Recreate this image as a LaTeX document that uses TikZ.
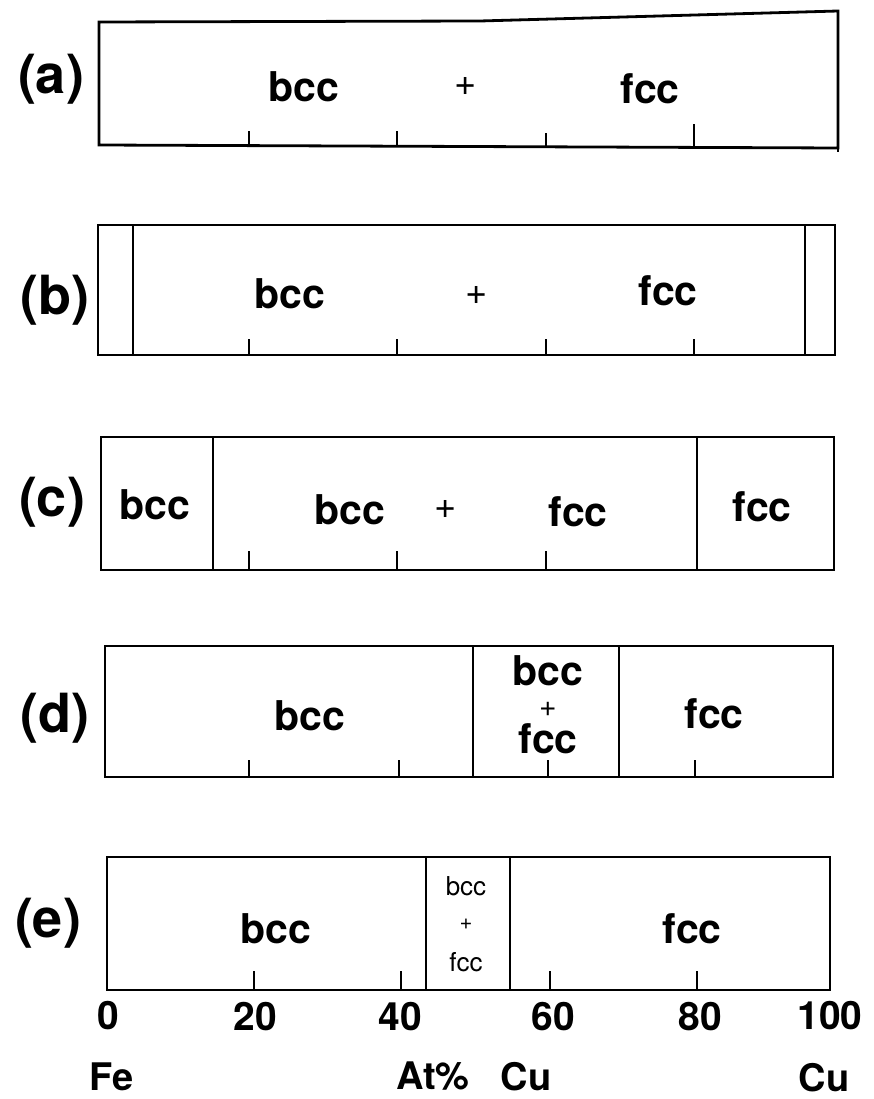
\documentclass[tikz,border=0pt]{standalone}
\usepackage{fontspec}
\setmainfont{TeX Gyre Heros}
\begin{document}
\begin{tikzpicture}[x=1pt,y=-1pt,
  outer/.style={line width=2.8pt,line join=miter},
  inner/.style={line width=2pt},
  tickline/.style={line width=1.8pt},
  phase/.style={font=\fontsize{41}{44}\selectfont\bfseries,inner sep=0pt,anchor=base},
  small/.style={font=\fontsize{26}{30}\selectfont,inner sep=0pt,anchor=base},
  plus/.style={font=\fontsize{38}{40}\selectfont,inner sep=0pt},
  panel/.style={font=\fontsize{54}{60}\selectfont\bfseries,inner sep=0pt,anchor=base},
  axisnum/.style={font=\fontsize{39}{44}\selectfont\bfseries,inner sep=0pt,anchor=base},
  axislab/.style={font=\fontsize{38}{44}\selectfont\bfseries,inner sep=0pt,anchor=base}]
\useasboundingbox[fill=white] (0,0) rectangle (874,1099);

% ---- (a)
\draw[outer] (99,22) -- (480,21) -- (838,11) -- (838,148) -- (99,145) -- cycle;
\draw[outer] (838,148) -- (838,152);
\foreach \x/\h in {249/131,397/131,546/133,694/124}{\draw[tickline] (\x,146) -- (\x,\h);}
\node[panel] (la) at (51,94) {(a)};
\node[phase] (a1) at (304,102) {bcc};
\node[plus]  (a2) at (466,86) {+};
\node[phase] (a3) at (650,104) {fcc};

% ---- (b)
\draw[outer] (98,225) rectangle (835,355);
\draw[inner] (133,225) -- (133,355);
\draw[inner] (805,225) -- (805,355);
\foreach \x in {249,397,546,694}{\draw[tickline] (\x,355) -- (\x,339);}
\node[panel] (lb) at (55,314) {(b)};
\node[phase] (b1) at (290,308) {bcc};
\node[plus]  (b2) at (477,295) {+};
\node[phase] (b3) at (668,305) {fcc};

% ---- (c)
\draw[outer] (101,437) rectangle (834,570);
\draw[inner] (213,437) -- (213,570);
\draw[inner] (697,437) -- (697,570);
\foreach \x in {249,397,546}{\draw[tickline] (\x,570) -- (\x,551);}
\node[panel] (lc) at (52,516) {(c)};
\node[phase] (c1) at (155,519) {bcc};
\node[phase] (c2) at (350,524) {bcc};
\node[plus]  (c3) at (446,509) {+};
\node[phase] (c4) at (578,526) {fcc};
\node[phase] (c5) at (762,521) {fcc};

% ---- (d)
\draw[outer] (105,646) rectangle (833,777);
\draw[inner] (473,646) -- (473,777);
\draw[inner] (619,646) -- (619,777);
\foreach \x in {249,399,548,695}{\draw[tickline] (\x,777) -- (\x,760);}
\node[panel] (ld) at (55,732) {(d)};
\node[phase] (d2) at (548,685) {bcc};
\node[font=\fontsize{30}{32}\selectfont,inner sep=0pt] (d3) at (548,709) {+};
\node[phase] (d4) at (548,753) {fcc};
\node[phase] (d1) at (310,730) {bcc};
\node[phase] (d5) at (714,728) {fcc};

% ---- (e)
\draw[outer] (107,857) rectangle (830,990);
\draw[inner] (426,857) -- (426,990);
\draw[inner] (510,857) -- (510,990);
\foreach \x in {254,401,550,697}{\draw[tickline] (\x,990) -- (\x,971);}
\node[panel] (le) at (48,937) {(e)};
\node[phase] (e1) at (276,943) {bcc};
\node[small] (e2) at (466,895) {bcc};
\node[font=\fontsize{22}{24}\selectfont,inner sep=0pt] (e3) at (466,924) {+};
\node[small] (e4) at (466,971) {fcc};
\node[phase] (e5) at (692,943) {fcc};

% ---- axis
\node[axisnum] (n0)   at (108,1029) {0};
\node[axisnum] (n20)  at (255,1030) {20};
\node[axisnum] (n40)  at (400,1030) {40};
\node[axisnum] (n60)  at (553,1030) {60};
\node[axisnum] (n80)  at (700,1030) {80};
\node[axisnum] (n100) at (830,1029) {100};
\node[axislab] (fe)   at (112,1090) {Fe};
\node[axislab] (at)   at (433,1089) {At\%};
\node[axislab] (cu1)  at (526,1090) {Cu};
\node[axislab] (cu2)  at (824,1091) {Cu};
\end{tikzpicture}
\end{document}
